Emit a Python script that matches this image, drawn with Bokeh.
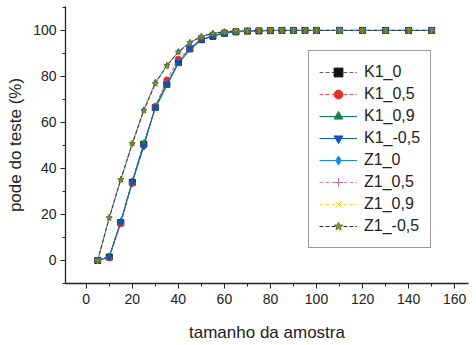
from bokeh.plotting import figure
from bokeh.models import Legend, LegendItem, Range1d, FixedTicker
from bokeh.embed import file_html
from bokeh.resources import INLINE

x_vals = [5, 10, 15, 20, 25, 30, 35, 40, 45, 50, 55, 60, 65, 70, 75, 80, 85, 90, 95, 100,
          110, 120, 130, 140, 150]

k1_0 = [0, 1.5, 16.5, 34, 50.5, 66.5, 76.5, 86, 92, 96, 97.5, 98.8, 99.4, 99.7, 99.8, 99.9,
        100, 100, 100, 100, 100, 100, 100, 100, 100]
k1_05 = [0, 1.2, 16, 33.5, 50, 67, 78.5, 87.5, 92.5, 96.2, 97.8, 99, 99.5, 99.7, 99.9, 100,
         100, 100, 100, 100, 100, 100, 100, 100, 100]
k1_09 = [0, 1.8, 17, 34.5, 51, 66, 76, 85.5, 91.5, 95.8, 97.5, 98.8, 99.3, 99.7, 99.8, 99.9,
         100, 100, 100, 100, 100, 100, 100, 100, 100]
k1_m05 = [0, 1.5, 16.8, 34.2, 49.5, 66.8, 76.8, 86.2, 92.2, 96, 97.6, 98.9, 99.4, 99.8, 99.9,
          100, 100, 100, 100, 100, 100, 100, 100, 100, 100]
z1_0 = [0, 18.8, 35, 51, 65.5, 77.5, 84.5, 90.8, 94.8, 97.3, 98.8, 99.4, 99.7, 99.9, 100,
        100, 100, 100, 100, 100, 100, 100, 100, 100, 100]
z1_05 = [0, 19, 35.5, 50.5, 65, 77, 85, 90.5, 95, 97.5, 98.9, 99.5, 99.8, 99.9, 100,
         100, 100, 100, 100, 100, 100, 100, 100, 100, 100]
z1_09 = [0, 19.2, 34.8, 51.2, 64.8, 77.2, 84.2, 90.2, 94.5, 97.2, 98.6, 99.3, 99.7, 99.9, 100,
         100, 100, 100, 100, 100, 100, 100, 100, 100, 100]
z1_m05 = [0, 18.5, 35.2, 50.8, 65.2, 76.8, 84.8, 90.6, 94.6, 97.4, 98.7, 99.4, 99.7, 99.9, 100,
          100, 100, 100, 100, 100, 100, 100, 100, 100, 100]

series_names = ["K1_0", "K1_0,5", "K1_0,9", "K1_-0,5", "Z1_0", "Z1_0,5", "Z1_0,9", "Z1_-0,5"]
series_values = [k1_0, k1_05, k1_09, k1_m05, z1_0, z1_05, z1_09, z1_m05]

x_ticks = [0, 20, 40, 60, 80, 100, 120, 140, 160]
y_ticks = [0, 20, 40, 60, 80, 100]

styles = [
    dict(line="#666666", dash="4 2", marker="square", fill="#111111", mline="#111111"),
    dict(line="#e06060", dash="4 2", marker="circle", fill="#e03030", mline="#e03030"),
    dict(line="#108050", dash="solid", marker="triangle", fill="#108050", mline="#108050"),
    dict(line="#1060c0", dash="solid", marker="inverted_triangle", fill="#1050c0", mline="#1050c0"),
    dict(line="#1a8ad4", dash="solid", marker="diamond", fill="#1a8ad4", mline="#1a8ad4"),
    dict(line="#c890d0", dash="4 2", marker="cross", fill="#b070c0", mline="#b070c0"),
    dict(line="#e8e040", dash="4 2", marker="x", fill="#e0d820", mline="#e0d820"),
    dict(line="#303030", dash="4 2", marker="star", fill="#88a820", mline="#607018"),
]

p = figure(width=476, height=345, output_backend="svg", toolbar_location=None,
           x_range=Range1d(-9, 166), y_range=Range1d(-10, 110.4),
           min_border_left=65, min_border_right=8, min_border_top=6, min_border_bottom=62)
p.outline_line_color = None
p.xgrid.visible = False
p.ygrid.visible = False
p.background_fill_color = "white"

items = []
for name, vals, st in zip(series_names, series_values, styles):
    r1 = p.line(x_vals, vals, line_color=st["line"], line_dash=st["dash"], line_width=1)
    r2 = p.scatter(x_vals, vals, marker=st["marker"], size=6, fill_color=st["fill"],
                   line_color=st["mline"], line_width=1)
    items.append(LegendItem(label=name, renderers=[r1, r2]))

for ax in (p.xaxis[0], p.yaxis[0]):
    ax.axis_line_color = "#222222"
    ax.axis_line_width = 1.3
    ax.major_tick_line_color = "#222222"
    ax.minor_tick_line_color = "#222222"
    ax.major_tick_in = 0
    ax.major_tick_out = 5
    ax.minor_tick_in = 0
    ax.minor_tick_out = 3
    ax.major_label_text_font = "Liberation Sans"
    ax.major_label_text_font_size = "14px"
    ax.major_label_text_color = "#222222"
    ax.axis_label_text_font = "Liberation Sans"
    ax.axis_label_text_font_size = "17px"
    ax.axis_label_text_font_style = "normal"
    ax.axis_label_text_color = "#222222"

p.xaxis.ticker = FixedTicker(ticks=x_ticks, minor_ticks=list(range(-10, 170, 10)))
p.yaxis.ticker = FixedTicker(ticks=y_ticks, minor_ticks=list(range(-10, 111, 10)))
p.xaxis.axis_label = "tamanho da amostra"
p.yaxis.axis_label = "pode do teste (%)"
p.xaxis.major_label_standoff = 5
p.yaxis.major_label_standoff = 4
p.xaxis.axis_label_standoff = 16
p.yaxis.axis_label_standoff = 5

legend = Legend(items=items, location=(243, 35))
legend.label_text_font = "Liberation Sans"
legend.label_text_font_size = "16px"
legend.label_text_color = "#222222"
legend.glyph_width = 38
legend.glyph_height = 22
legend.label_height = 22
legend.label_standoff = 7
legend.spacing = 0
legend.padding = 10
legend.margin = 0
legend.border_line_color = "#333333"
legend.border_line_width = 1.2
legend.background_fill_color = "white"
p.add_layout(legend)

open("out.html", "w").write(file_html(p, INLINE))
